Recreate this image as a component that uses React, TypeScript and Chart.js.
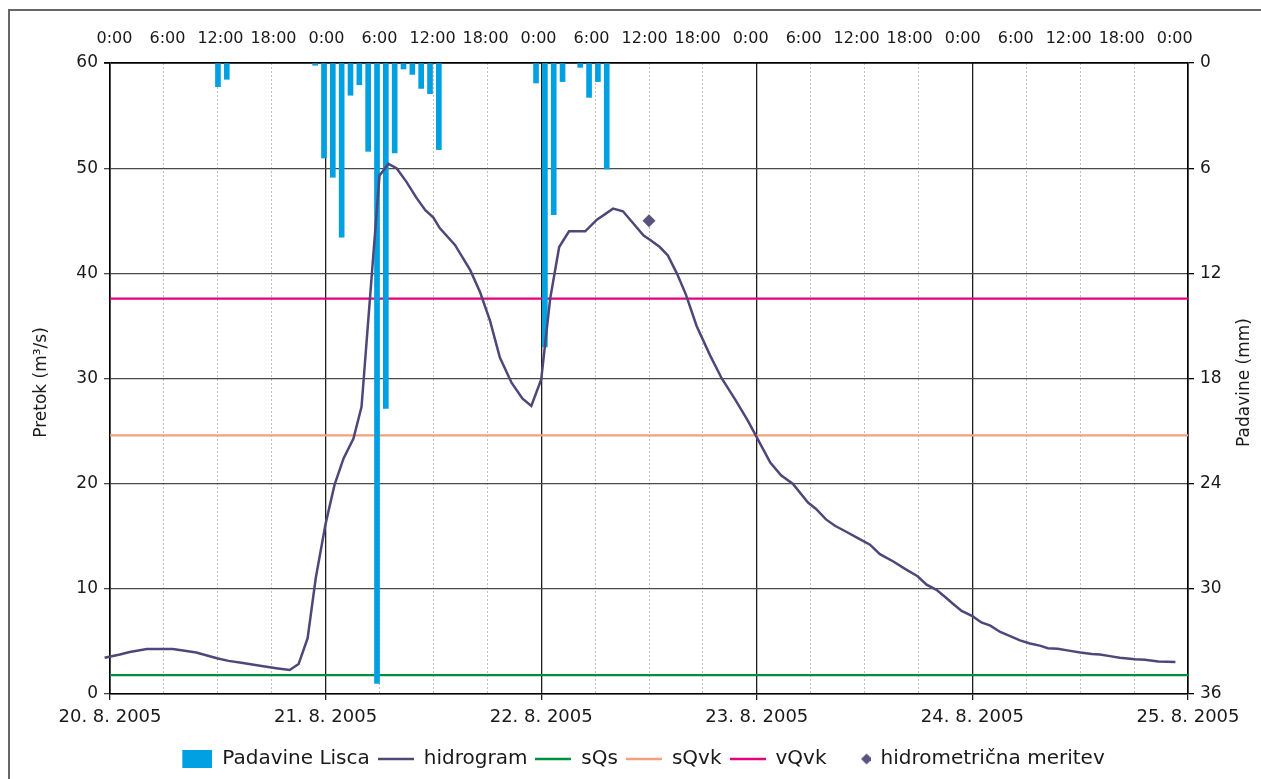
import React, { useEffect, useRef } from 'react';
import { Chart, registerables } from 'chart.js';

Chart.register(...registerables);

// ---- data ----
const dateLabels = ['20. 8. 2005', '21. 8. 2005', '22. 8. 2005', '23. 8. 2005', '24. 8. 2005', '25. 8. 2005'];
const timeLabels = [
  '0:00', '6:00', '12:00', '18:00',
  '0:00', '6:00', '12:00', '18:00',
  '0:00', '6:00', '12:00', '18:00',
  '0:00', '6:00', '12:00', '18:00',
  '0:00', '6:00', '12:00', '18:00',
  '0:00',
];
const timeLabelStep = 6; // rain categories (hours) between top labels
const rainCategoryCount = 122;

// precipitation (Padavine Lisca), hourly category index -> mm
const rainHourIndex = [12, 13, 23, 24, 25, 26, 27, 28, 29, 30, 31, 32, 33, 34, 35, 36, 37, 48, 49, 50, 51, 53, 54, 55, 56];
const rainMm = [1.35, 0.93, 0.13, 5.42, 6.52, 9.93, 1.84, 1.24, 5.04, 35.4, 19.7, 5.13, 0.34, 0.65, 1.45, 1.75, 4.94, 1.14, 16.2, 8.65, 1.06, 0.25, 1.96, 1.06, 6.05];

// hydrograph: hours since 20. 8. 2005 0:00 -> m3/s
const flowHours = [
  -0.6, 1.1, 2.2, 4.1, 7.0, 9.6, 11.9, 13.2, 14.8, 16.7, 18.5, 20.0, 21.0, 22.0, 22.9,
  24.0, 25.0, 26.0, 27.1, 28.0, 30.0, 31.0, 31.9, 33.0, 34.1, 35.1, 36.0, 36.7, 38.4, 40.1,
  41.2, 42.3, 43.4, 44.7, 45.9, 46.9, 48.0, 49.0, 50.0, 51.1, 52.9, 54.2, 56.0, 57.1, 59.4,
  60.1, 61.2, 62.1, 63.1, 64.1, 65.3, 66.8, 68.1, 69.6, 71.0, 72.0, 73.5, 74.7, 76.0, 77.7,
  78.6, 79.7, 80.7, 81.8, 83.3, 84.6, 85.7, 87.2, 88.5, 89.9, 90.9, 92.0, 93.0, 93.8, 94.8,
  96.0, 97.0, 98.0, 99.1, 100.2, 101.3, 102.4, 103.5, 104.4, 105.5, 106.9, 108.0, 109.3, 110.2, 111.3,
  112.4, 114.1, 115.2, 116.7, 118.6,
];
const flowValues = [
  3.45, 3.75, 4.0, 4.28, 4.28, 3.95, 3.4, 3.15, 2.95, 2.68, 2.45, 2.28, 2.85, 5.3, 11.0,
  16.2, 19.9, 22.4, 24.3, 27.3, 49.3, 50.4, 50.0, 48.7, 47.2, 46.0, 45.3, 44.3, 42.7, 40.3,
  38.2, 35.5, 32.0, 29.6, 28.1, 27.4, 29.9, 37.6, 42.5, 44.0, 44.0, 45.1, 46.15, 45.9, 43.6,
  43.2, 42.5, 41.7, 40.0, 38.0, 35.0, 32.2, 30.0, 28.0, 26.0, 24.4, 22.0, 20.8, 20.0, 18.2,
  17.6, 16.6, 16.0, 15.5, 14.8, 14.2, 13.3, 12.6, 11.9, 11.2, 10.4, 9.9, 9.2, 8.6, 7.9,
  7.4, 6.8, 6.5, 5.9, 5.5, 5.1, 4.8, 4.6, 4.35, 4.3, 4.1, 3.95, 3.8, 3.75, 3.6,
  3.45, 3.3, 3.25, 3.1, 3.05,
];

const thresholdSpan = [0, 120];
const sQsValue = 1.8;
const sQvkValue = 24.6;
const vQvkValue = 37.6;

const measurementHours = [60];
const measurementValues = [45];

const seriesNames = ['Padavine Lisca', 'hidrogram', 'sQs', 'sQvk', 'vQvk', 'hidrometrična meritev'];
const leftTitle = 'Pretok (m³/s)';
const rightTitle = 'Padavine (mm)';

// ---- styles ----
const C_RAIN = '#00A0E2';
const C_FLOW = '#4D4879';
const C_SQS = '#00913F';
const C_SQVK = '#F3A07C';
const C_VQVK = '#E4007D';
const C_MEAS = '#5A5380';
const FONT = 'DejaVu Sans';
const TXT = '#1a1a1a';
const ICON_W = 36;

const axisTitles = {
  id: 'axisTitles',
  afterDraw(chart: any) {
    const { ctx, chartArea } = chart;
    const cy = (chartArea.top + chartArea.bottom) / 2 + 4;
    ctx.save();
    ctx.font = `17px "${FONT}"`;
    ctx.fillStyle = TXT;
    ctx.textAlign = 'center';
    ctx.textBaseline = 'middle';
    ctx.save();
    ctx.translate(chartArea.left - 68, cy);
    ctx.rotate(-Math.PI / 2);
    ctx.fillText(leftTitle, 0, 0);
    ctx.restore();
    ctx.save();
    ctx.translate(chartArea.right + 57, cy);
    ctx.rotate(-Math.PI / 2);
    ctx.fillText(rightTitle, 0, 0);
    ctx.restore();
    ctx.restore();
  },
};

function makeIcon(draw: (c: CanvasRenderingContext2D) => void) {
  const c = document.createElement('canvas');
  c.width = ICON_W;
  c.height = 20;
  const g = c.getContext('2d')!;
  draw(g);
  return c;
}

function lineIcon(color: string) {
  return makeIcon((g) => {
    g.strokeStyle = color;
    g.lineWidth = 2.5;
    g.beginPath();
    g.moveTo(0, 10);
    g.lineTo(ICON_W, 10);
    g.stroke();
  });
}

export default function App() {
  const ref = useRef<HTMLCanvasElement>(null);

  useEffect(() => {
    const canvas = ref.current;
    if (!canvas) return;
    Chart.defaults.font.family = FONT;

    const icons = [
      makeIcon((g) => {
        g.fillStyle = C_RAIN;
        g.fillRect(ICON_W - 30, 1, 30, 18);
      }),
      lineIcon(C_FLOW),
      lineIcon(C_SQS),
      lineIcon(C_SQVK),
      lineIcon(C_VQVK),
      makeIcon((g) => {
        const cx = ICON_W - 4;
        g.fillStyle = C_MEAS;
        g.beginPath();
        g.moveTo(cx, 4.5);
        g.lineTo(cx + 5.5, 10);
        g.lineTo(cx, 15.5);
        g.lineTo(cx - 5.5, 10);
        g.closePath();
        g.fill();
      }),
    ];

    const hline = (v: number) => thresholdSpan.map((x) => ({ x, y: v }));

    const chart = new Chart(canvas, {
      type: 'line',
      data: {
        datasets: [
          {
            type: 'bar',
            label: seriesNames[0],
            xAxisID: 'xBar',
            yAxisID: 'yRain',
            data: rainHourIndex.map((i, k) => ({ x: i, y: rainMm[k] })),
            backgroundColor: C_RAIN,
            borderWidth: 0,
            barThickness: 5,
            order: 1,
          } as any,
          {
            label: seriesNames[1],
            xAxisID: 'x',
            yAxisID: 'y',
            data: flowHours.map((h, k) => ({ x: h, y: flowValues[k] })),
            borderColor: C_FLOW,
            backgroundColor: C_FLOW,
            borderWidth: 2.5,
            pointRadius: 0,
            tension: 0,
            order: 0,
            clip: { left: 8, top: 0, right: 0, bottom: 0 },
          } as any,
          {
            label: seriesNames[2],
            xAxisID: 'x',
            yAxisID: 'y',
            data: hline(sQsValue),
            borderColor: C_SQS,
            borderWidth: 2.3,
            pointRadius: 0,
            order: 2,
          },
          {
            label: seriesNames[3],
            xAxisID: 'x',
            yAxisID: 'y',
            data: hline(sQvkValue),
            borderColor: C_SQVK,
            borderWidth: 2.3,
            pointRadius: 0,
            order: 2,
          },
          {
            label: seriesNames[4],
            xAxisID: 'x',
            yAxisID: 'y',
            data: hline(vQvkValue),
            borderColor: C_VQVK,
            borderWidth: 2.3,
            pointRadius: 0,
            order: 2,
          },
          {
            label: seriesNames[5],
            xAxisID: 'x',
            yAxisID: 'y',
            data: measurementHours.map((h, k) => ({ x: h, y: measurementValues[k] })),
            showLine: false,
            pointStyle: 'rectRot',
            pointRadius: 6.5,
            backgroundColor: C_MEAS,
            borderColor: C_MEAS,
            borderWidth: 0,
            order: 0,
          } as any,
        ],
      },
      options: {
        animation: false,
        responsive: false,
        devicePixelRatio: 1,
        events: [],
        layout: { padding: { top: 20, left: 20, right: 0, bottom: 0 } },
        plugins: {
          tooltip: { enabled: false },
          legend: {
            position: 'bottom',
            labels: {
              usePointStyle: true,
              pointStyleWidth: ICON_W,
              padding: 8,
              color: TXT,
              font: { family: FONT, size: 20 },
              sort: (a: any, b: any) => a.datasetIndex - b.datasetIndex,
              generateLabels: (ch: any) => {
                const items = (Chart.defaults.plugins.legend.labels as any).generateLabels(ch);
                items.forEach((it: any) => {
                  it.pointStyle = icons[it.datasetIndex];
                  it.rotation = 0;
                });
                return items;
              },
            },
          },
        },
        scales: {
          x: {
            type: 'linear',
            position: 'bottom',
            min: 0,
            max: 120,
            afterBuildTicks: (s: any) => {
              s.ticks = dateLabels.map((_, i) => ({ value: i * 24 }));
            },
            ticks: {
              callback: (_v: any, i: number) => dateLabels[i],
              color: TXT,
              font: { size: 18 },
              padding: 7,
              maxRotation: 0,
              autoSkip: false,
            },
            grid: { color: '#1e1e1e', lineWidth: 1.3, tickLength: 6 },
            border: { color: '#000', width: 1.6 },
            afterFit: (s: any) => {
              s.height = 47;
            },
          },
          xMinor: {
            type: 'linear',
            position: 'bottom',
            min: 0,
            max: 120,
            ticks: { display: false, stepSize: 6 },
            grid: {
              drawTicks: false,
              lineWidth: 1,
              color: (c: any) => (c.tick && c.tick.value % 24 === 0 ? 'rgba(0,0,0,0)' : '#bdbdbd'),
            },
            border: { display: false, dash: [2, 2] },
            afterFit: (s: any) => {
              s.height = 0;
            },
          },
          xBar: {
            type: 'linear',
            position: 'top',
            offset: false,
            min: -0.5,
            max: rainCategoryCount - 0.5,
            afterBuildTicks: (s: any) => {
              s.ticks = timeLabels.map((_, i) => ({ value: i * timeLabelStep }));
            },
            ticks: {
              callback: (_v: any, i: number) => timeLabels[i],
              color: TXT,
              font: { size: 16 },
              padding: 15,
              maxRotation: 0,
              autoSkip: false,
            },
            grid: { display: false, drawTicks: false },
            border: { display: false },
            afterFit: (s: any) => {
              s.height = 43;
            },
          },
          y: {
            type: 'linear',
            position: 'left',
            min: 0,
            max: 60,
            ticks: { stepSize: 10, color: TXT, font: { size: 17 }, padding: 6 },
            grid: {
              color: (c: any) => (c.tick && c.tick.value === 60 ? '#000' : '#4a4a4a'),
              lineWidth: (c: any) => (c.tick && c.tick.value === 60 ? 1.8 : 1.3),
              tickLength: 6,
            },
            border: { color: '#000', width: 1.6 },
            afterFit: (s: any) => {
              s.width = 90;
            },
          },
          yRain: {
            type: 'linear',
            position: 'right',
            min: 0,
            max: 36,
            reverse: true,
            ticks: { stepSize: 6, color: TXT, font: { size: 17 }, padding: 6 },
            grid: { drawOnChartArea: false, tickLength: 6, color: '#000', lineWidth: 1.3 },
            border: { color: '#000', width: 1.6 },
            afterFit: (s: any) => {
              s.width = 73;
            },
          },
        },
      } as any,
      plugins: [axisTitles],
    });

    return () => chart.destroy();
  }, []);

  return (
    <div style={{ position: 'fixed', left: 0, top: 0, width: 1261, height: 779, background: '#fff', overflow: 'hidden' }}>
      <canvas ref={ref} width={1261} height={779} style={{ display: 'block', width: 1261, height: 779 }} />
      <div
        style={{
          position: 'absolute',
          left: 8,
          top: 9,
          width: 1400,
          height: 900,
          borderLeft: '2px solid #666',
          borderTop: '2px solid #666',
          pointerEvents: 'none',
        }}
      />
    </div>
  );
}
